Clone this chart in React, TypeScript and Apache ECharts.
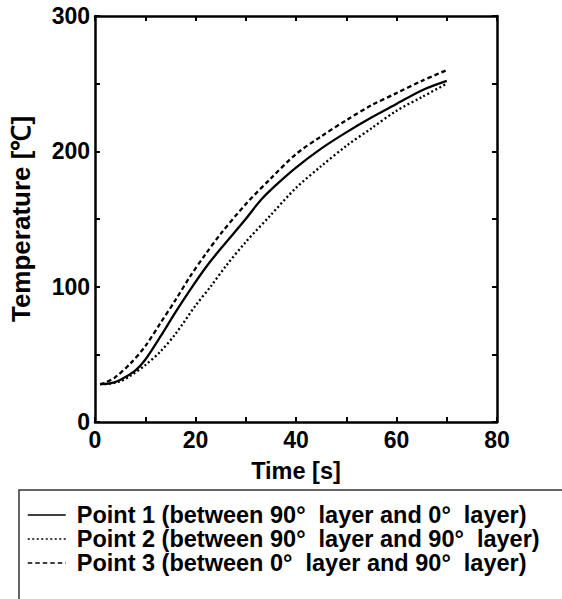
import React, { useEffect, useRef } from "react";
import * as echarts from "echarts";

const timeP1 = [1, 3, 5, 8, 10, 13, 16, 19, 22, 25, 30, 33, 36, 40, 45, 50, 55, 60, 65, 70];
const tempP1 = [28, 28.5, 31, 38, 46, 63, 81, 98, 114, 128, 150, 164, 175, 188, 202, 214, 225, 235, 245, 252];

const timeP2 = [1, 3, 5, 7, 10, 13, 16, 20, 23, 26, 30, 35, 40, 45, 50, 55, 60, 65, 70];
const tempP2 = [28, 28.3, 30, 34, 42, 52, 65, 86, 100, 115, 133, 153, 173, 189, 204, 217, 230, 240, 250];

const timeP3 = [1, 2, 4, 7, 10, 13, 16, 19, 22, 25, 30, 35, 40, 45, 50, 55, 60, 65, 70];
const tempP3 = [28, 29, 33, 43, 56, 73, 90, 108, 124, 139, 161, 180, 198, 211, 223, 234, 243, 252, 260];

const seriesNames = [
  "Point 1 (between 90°\u00a0 layer and 0°\u00a0 layer)",
  "Point 2 (between 90°\u00a0 layer and 90°\u00a0 layer)",
  "Point 3 (between 0°\u00a0 layer and 90°\u00a0 layer)",
];

const xTickLabels = [0, 20, 40, 60, 80];
const yTickLabels = [0, 100, 200, 300];

const FONT = "'Liberation Sans', Arial, sans-serif";

function pairs(t: number[], v: number[]) {
  return t.map((x, i) => [x, v[i]]);
}

export default function App() {
  const ref = useRef<HTMLDivElement>(null);
  useEffect(() => {
    if (!ref.current) return;
    const chart = echarts.init(ref.current, undefined, { renderer: "svg" });
    const axisLine = { show: true, onZero: false, lineStyle: { color: "#000", width: 2.5 } };
    const tick = { show: true, inside: true, length: 5, lineStyle: { color: "#000", width: 2 } };
    const labelStyle = { color: "#000", fontSize: 23, fontWeight: "bold" as const, fontFamily: FONT };
    chart.setOption({
      animation: false,
      backgroundColor: "#fff",
      grid: { left: 90, top: 16, right: 65, bottom: 177, containLabel: false },
      xAxis: [
        {
          type: "value",
          min: 0,
          max: 80,
          interval: 10,
          position: "bottom",
          axisLine,
          axisTick: tick,
          splitLine: { show: false },
          axisLabel: {
            ...labelStyle,
            margin: 6,
            formatter: (v: number) => (xTickLabels.includes(v) ? String(v) : ""),
          },
          name: "Time [s]",
          nameLocation: "middle",
          nameGap: 37,
          nameTextStyle: { ...labelStyle, fontSize: 23.5 },
        },
        {
          type: "value",
          min: 0,
          max: 80,
          interval: 10,
          position: "top",
          axisLine,
          axisTick: tick,
          splitLine: { show: false },
          axisLabel: { show: false },
        },
      ],
      yAxis: [
        {
          type: "value",
          min: 0,
          max: 300,
          interval: 50,
          position: "left",
          axisLine,
          axisTick: tick,
          splitLine: { show: false },
          axisLabel: {
            ...labelStyle,
            margin: 5,
            formatter: (v: number) => (yTickLabels.includes(v) ? String(v) : ""),
          },
          name: "Temperature [℃]",
          nameLocation: "middle",
          nameGap: 61,
          nameTextStyle: { ...labelStyle, fontSize: 26 },
        },
        {
          type: "value",
          min: 0,
          max: 300,
          interval: 50,
          position: "right",
          axisLine,
          axisTick: tick,
          splitLine: { show: false },
          axisLabel: { show: false },
        },
      ],
      legend: {
        orient: "vertical",
        left: 27,
        top: 503,
        padding: 0,
        itemGap: 0,
        itemWidth: 38,
        itemHeight: 14,
        data: seriesNames,
        itemStyle: { color: "transparent", borderColor: "transparent", borderWidth: 0 },
        lineStyle: { width: 1.5 },
        textStyle: { ...labelStyle, fontSize: 23.5, lineHeight: 22, padding: [0, 0, 0, 6] },
      },
      graphic: [
        {
          type: "rect",
          shape: { x: 19, y: 490, width: 700, height: 300 },
          style: { fill: "none", stroke: "#333", lineWidth: 1.5 },
          silent: true,
        },
      ],
      series: [
        {
          name: seriesNames[0],
          type: "line",
          data: pairs(timeP1, tempP1),
          showSymbol: false,
          symbol: "none",
          smooth: 0.3,
          lineStyle: { color: "#000", width: 2.3, type: "solid" },
          itemStyle: { color: "#000" },
        },
        {
          name: seriesNames[1],
          type: "line",
          data: pairs(timeP2, tempP2),
          showSymbol: false,
          symbol: "none",
          smooth: 0.3,
          lineStyle: { color: "#000", width: 2.3, type: [2, 2.5] },
          itemStyle: { color: "#000" },
        },
        {
          name: seriesNames[2],
          type: "line",
          data: pairs(timeP3, tempP3),
          showSymbol: false,
          symbol: "none",
          smooth: 0.3,
          lineStyle: { color: "#000", width: 2.3, type: [4.5, 3] },
          itemStyle: { color: "#000" },
        },
      ],
    });
    return () => chart.dispose();
  }, []);
  return (
    <div
      ref={ref}
      style={{ position: "fixed", left: 0, top: 0, width: 562, height: 599, background: "#fff" }}
    />
  );
}
